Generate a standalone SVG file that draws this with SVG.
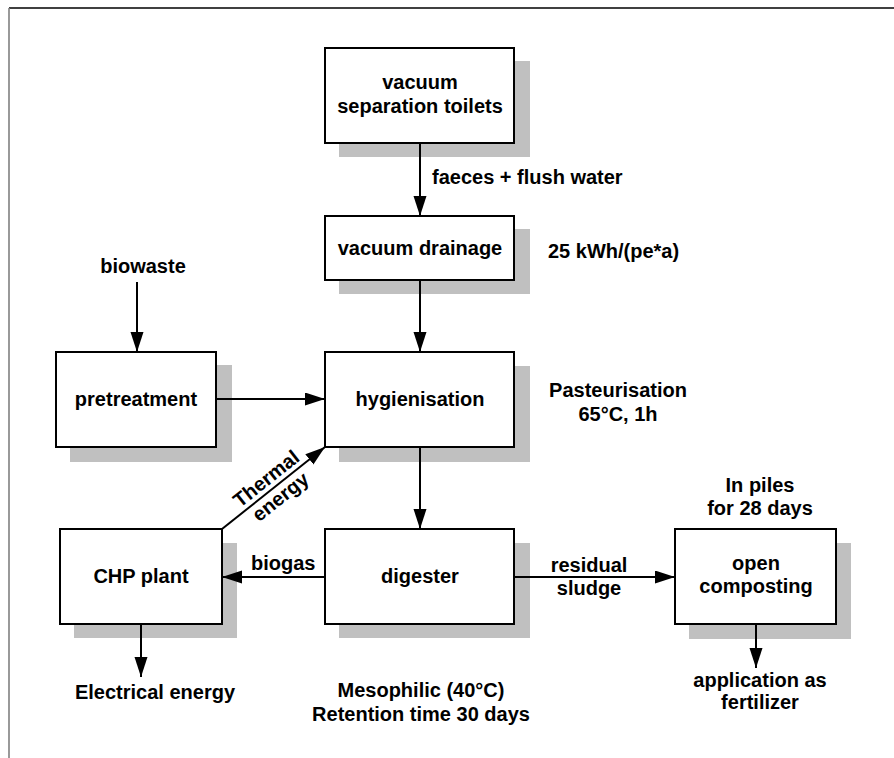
<svg xmlns="http://www.w3.org/2000/svg" width="894" height="758" viewBox="0 0 894 758">
  <defs>
    <marker id="arrow" markerUnits="userSpaceOnUse" markerWidth="21" markerHeight="14" refX="20" refY="6.5" orient="auto">
      <path d="M0,0 L20,6.5 L0,13 Z" fill="#000"/>
    </marker>
  </defs>
  <style>
    .box { fill: #fff; stroke: #000; stroke-width: 2; }
    .shadow { fill: #c0c0c0; stroke: none; }
    .line { fill: none; stroke: #000; stroke-width: 2; marker-end: url(#arrow); }
    text { font-family: "Liberation Sans", Arial, sans-serif; font-weight: bold; font-size: 20px; fill: #000; }
    .c { text-anchor: middle; }
  </style>

  <rect width="894" height="758" fill="#fff"/>

  <!-- page frame -->
  <line x1="9" y1="8" x2="894" y2="8" stroke="#000" stroke-width="1.3"/>
  <line x1="9" y1="8" x2="9" y2="758" stroke="#808080" stroke-width="1.6"/>

  <g id="toilets">
    <rect class="shadow" x="339" y="61" width="191" height="96"/>
    <rect class="box" x="325" y="48" width="189" height="95"/>
    <text class="c" x="420" y="89">vacuum</text>
    <text class="c" x="420" y="113">separation toilets</text>
  </g>

  <g id="drainage">
    <rect class="shadow" x="339" y="229" width="191" height="65"/>
    <rect class="box" x="325" y="216" width="189" height="64"/>
    <text class="c" x="420" y="255">vacuum drainage</text>
  </g>

  <g id="pretreatment">
    <rect class="shadow" x="70" y="365" width="162" height="97"/>
    <rect class="box" x="56" y="352" width="160" height="95"/>
    <text class="c" x="136" y="406">pretreatment</text>
  </g>

  <g id="hygienisation">
    <rect class="shadow" x="339" y="366" width="191" height="96"/>
    <rect class="box" x="325" y="352" width="189" height="95"/>
    <text class="c" x="420" y="406">hygienisation</text>
  </g>

  <g id="chp">
    <rect class="shadow" x="74" y="543" width="163" height="95"/>
    <rect class="box" x="60" y="529" width="162" height="95"/>
    <text class="c" x="141" y="583">CHP plant</text>
  </g>

  <g id="digester">
    <rect class="shadow" x="339" y="543" width="191" height="95"/>
    <rect class="box" x="325" y="529" width="189" height="95"/>
    <text class="c" x="420" y="583">digester</text>
  </g>

  <g id="composting">
    <rect class="shadow" x="689" y="543" width="162" height="96"/>
    <rect class="box" x="675" y="529" width="161" height="95"/>
    <text class="c" x="756" y="570">open</text>
    <text class="c" x="756" y="593">composting</text>
  </g>

  <!-- free-standing labels -->
  <g id="labels">
    <text class="c" x="143" y="273">biowaste</text>
    <text x="548" y="258">25 kWh/(pe*a)</text>
    <text class="c" x="618" y="397">Pasteurisation</text>
    <text class="c" x="618" y="421">65°C, 1h</text>
    <text class="c" x="760" y="492">In piles</text>
    <text class="c" x="760" y="515">for 28 days</text>
    <text class="c" x="421" y="697">Mesophilic (40°C)</text>
    <text class="c" x="421" y="721">Retention time 30 days</text>
    <text class="c" x="155" y="699">Electrical energy</text>
    <text class="c" x="760" y="687">application as</text>
    <text class="c" x="760" y="709">fertilizer</text>
  </g>

  <g id="connectors">
    <line class="line" x1="420" y1="143" x2="420" y2="216"/>
    <text x="432" y="184">faeces + flush water</text>

    <line class="line" x1="420" y1="280" x2="420" y2="352"/>
    <line class="line" x1="137" y1="282" x2="137" y2="352"/>
    <line class="line" x1="216" y1="399" x2="325" y2="399"/>
    <line class="line" x1="420" y1="447" x2="420" y2="529"/>

    <line class="line" x1="222" y1="529" x2="325" y2="447"/>
    <g transform="translate(273.5,488) rotate(-38.5)">
      <text class="c" x="0" y="-5">Thermal</text>
      <text class="c" x="0" y="18">energy</text>
    </g>

    <line class="line" x1="325" y1="577" x2="222" y2="577"/>
    <text x="251" y="570">biogas</text>

    <line class="line" x1="514" y1="577" x2="675" y2="577"/>
    <text class="c" x="589" y="572">residual</text>
    <text class="c" x="589" y="595">sludge</text>

    <line class="line" x1="141" y1="624" x2="141" y2="677"/>
    <line class="line" x1="756" y1="624" x2="756" y2="668"/>
  </g>
</svg>
